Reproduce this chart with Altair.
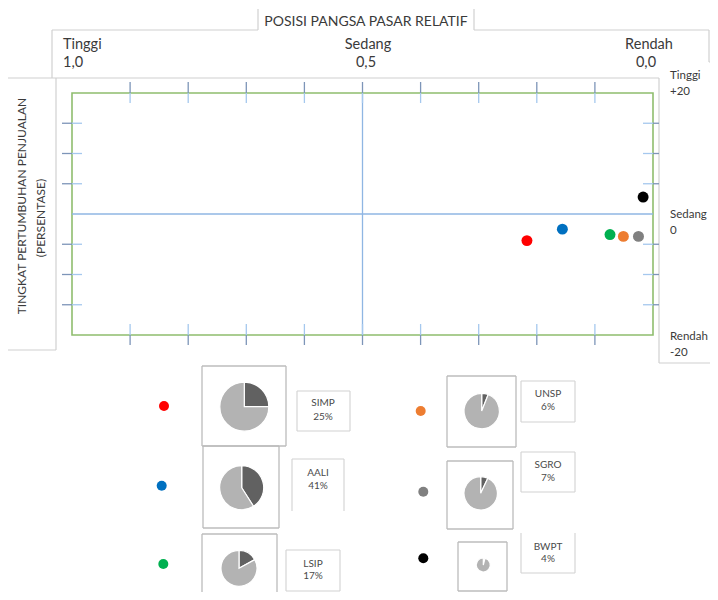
import altair as alt
import pandas as pd

# ---------------- data ----------------
companies = ["SIMP", "AALI", "LSIP", "UNSP", "SGRO", "BWPT"]
rel_share = [0.217, 0.156, 0.074, 0.051, 0.025, 0.017]   # relative market share (x)
growth = [-4.4, -2.5, -3.4, -3.7, -3.7, 2.8]              # sales growth % (y)
share_pct = [25, 41, 17, 6, 7, 4]                          # pie shares
colors = ["#ff0000", "#0070c0", "#00b050", "#ed7d31", "#808080", "#000000"]

x_ticks = [0.1, 0.2, 0.3, 0.4, 0.5, 0.6, 0.7, 0.8, 0.9]
y_ticks = [-15, -10, -5, 5, 10, 15]
x_title = "POSISI PANGSA PASAR RELATIF"
y_title = ["TINGKAT PERTUMBUHAN PENJUALAN", "(PERSENTASE)"]
x_levels = ["Tinggi", "Sedang", "Rendah"]
x_level_vals = ["1,0", "0,5", "0,0"]
y_levels = ["Tinggi", "Sedang", "Rendah"]
y_level_vals = ["+20", "0", "-20"]

# ---------------- layout ----------------
FONT = "Lato"
OX, OY = 72, 93          # page position of plot-area origin
W, H = 581, 242
PAD = {"left": 64, "top": 85, "right": 702 - 64 - W, "bottom": 584 - 85 - H}
GRID = "#c9c9c9"
TXT = "#3a3a3a"

one = pd.DataFrame({"k": [0]})
df = pd.DataFrame({"company": companies, "share": rel_share, "growth": growth})
xs = alt.Scale(domain=[0, 1], reverse=True)
ys = alt.Scale(domain=[-20, 20])
cscale = alt.Scale(domain=companies, range=colors)

layers = []


def line(x1, y1, x2, y2, color=GRID, w=1.2):
    return alt.Chart(one).mark_rule(color=color, strokeWidth=w).encode(
        x=alt.value(x1 - OX), y=alt.value(y1 - OY),
        x2=alt.value(x2 - OX), y2=alt.value(y2 - OY))


def text(t, x, y, size=13, align="left", angle=0, color=TXT):
    return alt.Chart(one).mark_text(
        text=t, align=align, baseline="middle", fontSize=size, font=FONT,
        color=color, angle=angle).encode(x=alt.value(x - OX), y=alt.value(y - OY))


def box(x1, y1, x2, y2, sides="tlbr", color=GRID, w=1.2):
    out = []
    if "t" in sides:
        out.append(line(x1, y1, x2, y1, color, w))
    if "b" in sides:
        out.append(line(x1, y2, x2, y2, color, w))
    if "l" in sides:
        out.append(line(x1, y1, x1, y2, color, w))
    if "r" in sides:
        out.append(line(x2, y1, x2, y2, color, w))
    return out


# header / frame decoration
for seg in [(258, 9, 258, 30), (474, 9, 474, 30), (52, 30, 258, 30), (474, 30, 709, 30),
            (52, 30, 52, 78), (709, 30, 709, 62), (709, 62, 718, 62),
            (8, 78, 659, 78), (56, 78, 56, 350), (8, 350, 56, 350),
            (659, 78, 659, 363), (659, 363, 718, 363)]:
    layers.append(line(*seg, color="#d0d0d0", w=1.2))

layers.append(text(x_title, 366, 22, size=14, align="center"))
layers.append(text(x_levels[0], 63, 45, size=14.5))
layers.append(text(x_level_vals[0], 63, 63, size=14.5))
layers.append(text(x_levels[1], 368, 45, size=14.5, align="center"))
layers.append(text(x_level_vals[1], 366, 63, size=14.5, align="center"))
layers.append(text(x_levels[2], 649, 45, size=14.5, align="center"))
layers.append(text(x_level_vals[2], 646, 63, size=14.5, align="center"))

for lab, val, yc in zip(y_levels, y_level_vals, [76, 215, 337]):
    layers.append(text(lab, 670, yc, size=11.5))
    layers.append(text(val, 670, yc + 15.5, size=11.5))

layers.append(text(y_title[0], 22, 206, size=12, align="center", angle=270))
layers.append(text(y_title[1], 41, 218, size=12, align="center", angle=270))

# mid lines through the scales
layers.append(alt.Chart(pd.DataFrame({"v": [0.5]})).mark_rule(color="#8fb6e3", strokeWidth=1.3)
              .encode(x=alt.X("v:Q", scale=xs, axis=None)))
layers.append(alt.Chart(pd.DataFrame({"v": [0]})).mark_rule(color="#8fb6e3", strokeWidth=1.3)
              .encode(y=alt.Y("v:Q", scale=ys, axis=None)))

# tick marks (two-tone)
xt = pd.DataFrame({"v": x_ticks})
yt = pd.DataFrame({"v": y_ticks})
DARK_T, LIGHT_T = "#7d95b8", "#a5c8ee"
for (a, b, c) in [(-11, 0, DARK_T), (0, 10, LIGHT_T), (H - 11, H, LIGHT_T), (H, H + 10, DARK_T)]:
    layers.append(alt.Chart(xt).mark_rule(color=c, strokeWidth=1.3).encode(
        x=alt.X("v:Q", scale=xs, axis=None), y=alt.value(a), y2=alt.value(b)))
for (a, b, c) in [(-10, 0, DARK_T), (0, 10, LIGHT_T), (W - 10, W, LIGHT_T), (W, W + 6, DARK_T)]:
    layers.append(alt.Chart(yt).mark_rule(color=c, strokeWidth=1.3).encode(
        y=alt.Y("v:Q", scale=ys, axis=None), x=alt.value(a), x2=alt.value(b)))

# scatter points
layers.append(alt.Chart(df).mark_circle(size=120, opacity=1).encode(
    x=alt.X("share:Q", scale=xs, axis=None),
    y=alt.Y("growth:Q", scale=ys, axis=None),
    color=alt.Color("company:N", scale=cscale, legend=None)))

# legend section: dot, pie box, label box
legend_layout = {
    "SIMP": dict(dot=(164, 406), box=(202, 366, 286, 446), pie=(244.3, 406.7, 24.5),
                 lab=(297, 391, 350, 431, "tlbr"), tx=323, ty=(403, 417)),
    "AALI": dict(dot=(161.7, 485.7), box=(203, 446, 279, 528), pie=(241.7, 487.7, 22),
                 lab=(292, 459, 344, 511, "tlr"), tx=318, ty=(473, 486)),
    "LSIP": dict(dot=(163.3, 564), box=(202, 534, 277, 605), pie=(239, 568.3, 18),
                 lab=(286, 550, 340, 591, "tlbr"), tx=313, ty=(564, 576)),
    "UNSP": dict(dot=(420.7, 411), box=(447, 376, 516, 447), pie=(481.7, 411, 17.7),
                 lab=(521, 381, 575, 422, "tlbr"), tx=548, ty=(394, 407)),
    "SGRO": dict(dot=(423.3, 491.7), box=(447, 461, 513, 529), pie=(480.7, 493.3, 16.7),
                 lab=(521, 452, 575, 492, "tlbr"), tx=548, ty=(465, 478)),
    "BWPT": dict(dot=(423.3, 558.3), box=(458, 542, 507, 591), pie=(483.3, 565, 7),
                 lab=(521, 533, 575, 573, "lbr"), tx=548, ty=(547, 559)),
}

for i, name in enumerate(companies):
    L = legend_layout[name]
    layers += box(*L["box"], color="#bcbcbc", w=1.3)
    x1, y1, x2, y2, sides = L["lab"]
    layers += box(x1, y1, x2, y2, sides, color="#d2d2d2", w=1.1)
    layers.append(text(name, L["tx"], L["ty"][0], size=10, align="center", color="#4a4a4a"))
    layers.append(text(f"{share_pct[i]}%", L["tx"], L["ty"][1], size=10, align="center", color="#4a4a4a"))
    dx, dy = L["dot"]
    layers.append(alt.Chart(df[df.company == name]).mark_circle(size=100, opacity=1).encode(
        x=alt.value(dx - OX), y=alt.value(dy - OY),
        color=alt.Color("company:N", scale=cscale, legend=None)))
    cx, cy, r = L["pie"]
    pdat = pd.DataFrame({"part": ["share", "rest"],
                         "v": [share_pct[i], 100 - share_pct[i]], "ord": [0, 1]})
    layers.append(alt.Chart(pdat).mark_arc(stroke="white", strokeWidth=1.2).encode(
        theta=alt.Theta("v:Q", stack=True),
        color=alt.Color("part:N", scale=alt.Scale(domain=["share", "rest"],
                                                  range=["#616161", "#b3b3b3"]), legend=None),
        order=alt.Order("ord:Q"),
        x=alt.value(cx - OX), y=alt.value(cy - OY), radius=alt.value(r)))

chart = alt.layer(*layers).resolve_scale(color="independent", theta="independent").properties(
    width=W, height=H, padding=PAD, autosize="none"
).configure_view(stroke="#8fbd6e", strokeWidth=1.6)

chart.save("out.html", embed_options={"renderer": "svg", "actions": False})
